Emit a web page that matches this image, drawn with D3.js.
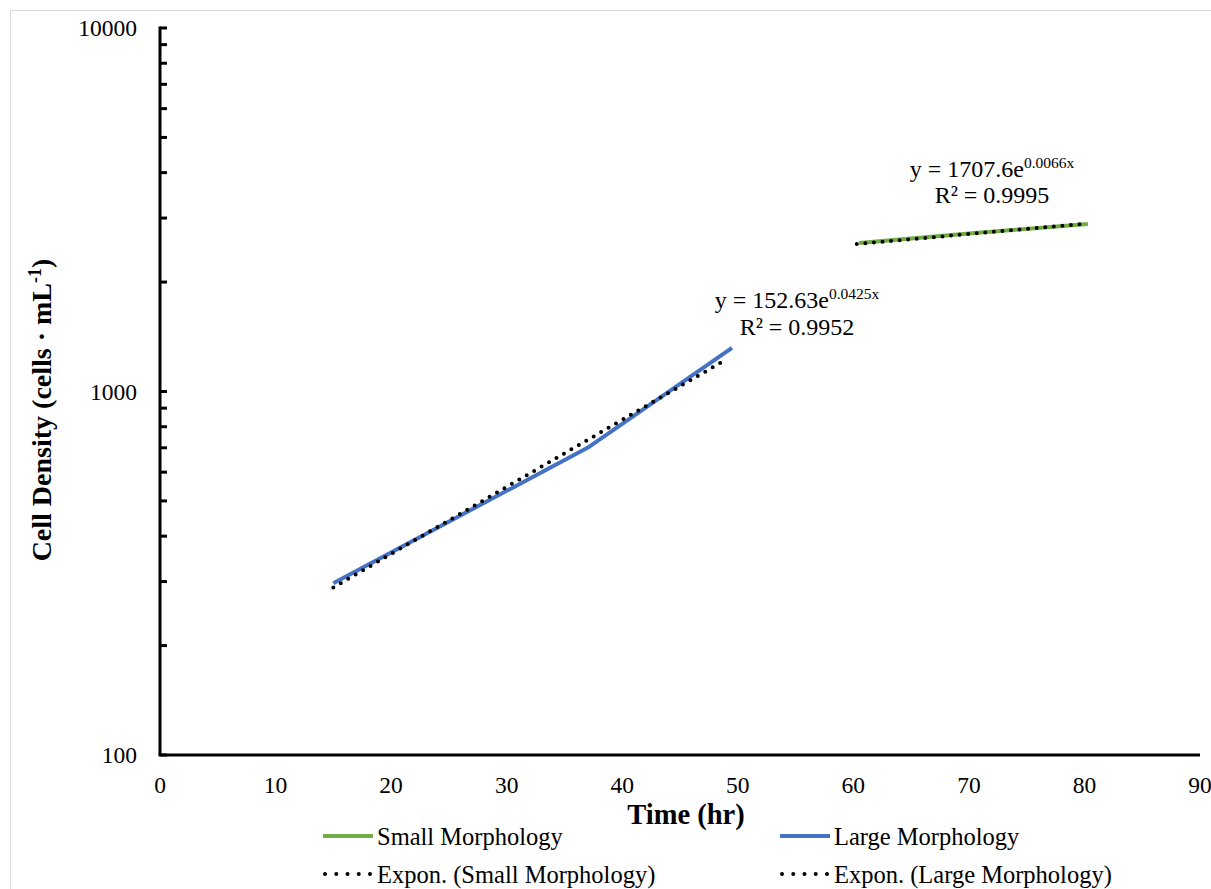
<!DOCTYPE html>
<html>
<head>
<meta charset="utf-8">
<title>Cell Density</title>
<script src="https://cdn.jsdelivr.net/npm/d3@7"></script>
<style>
    body { margin: 0; background: #fff; }
    text { font-family: "Liberation Serif", "Times New Roman", serif; fill: #000; }
</style>
</head>
<body>
<div id="chart"></div>
<script>
    const width = 1211, height = 889;

    // data
    const largeX = [15, 37, 49.5];
    const largeY = [297, 700, 1318];
    const smallX = [60.5, 70, 80.3];
    const smallY = [2560, 2720, 2890];
    const largeTrendX = [15, 49];
    const largeTrendY = [289, 1225];
    const smallTrendX = [60.3, 80];
    const smallTrendY = [2545, 2895];
    const xTicks = [0, 10, 20, 30, 40, 50, 60, 70, 80, 90];
    const yMajor = [100, 1000, 10000];

    const x = d3.scaleLinear().domain([0, 90]).range([160, 1200]);
    const y = d3.scaleLog().domain([100, 10000]).range([755, 28]);

    const svg = d3.select("#chart").append("svg")
        .attr("width", width)
        .attr("height", height);

    // outer chart border
    svg.append("rect")
        .attr("x", 10.5).attr("y", 10.5)
        .attr("width", width).attr("height", height)
        .attr("fill", "none")
        .attr("stroke", "#d9d9d9");

    // y axis with minor log ticks pointing inward
    const yTicks = y.ticks();
    svg.append("g")
        .selectAll("line")
        .data(yTicks)
        .join("line")
        .attr("x1", x(0)).attr("x2", x(0) + 7)
        .attr("y1", d => y(d)).attr("y2", d => y(d))
        .attr("stroke", "#000").attr("stroke-width", 3);

    svg.append("line")
        .attr("x1", x(0)).attr("x2", x(0))
        .attr("y1", y(10000) - 1.5).attr("y2", y(100))
        .attr("stroke", "#000").attr("stroke-width", 3);

    svg.append("line")
        .attr("x1", x(0) - 1.5).attr("x2", x(90))
        .attr("y1", y(100)).attr("y2", y(100))
        .attr("stroke", "#000").attr("stroke-width", 3);

    svg.append("g")
        .selectAll("text")
        .data(yMajor)
        .join("text")
        .attr("x", x(0) - 23)
        .attr("y", d => y(d))
        .attr("dy", "0.35em")
        .attr("text-anchor", "end")
        .attr("font-size", 23.5)
        .text(d => d);

    svg.append("g")
        .selectAll("text")
        .data(xTicks)
        .join("text")
        .attr("x", d => x(d))
        .attr("y", 793)
        .attr("text-anchor", "middle")
        .attr("font-size", 23.5)
        .text(d => d);

    // axis titles
    svg.append("text")
        .attr("x", 686).attr("y", 824)
        .attr("text-anchor", "middle")
        .attr("font-size", 28.5)
        .attr("font-weight", "bold")
        .text("Time (hr)");

    const yTitle = svg.append("text")
        .attr("transform", "translate(51,410) rotate(-90)")
        .attr("text-anchor", "middle")
        .attr("font-size", 28)
        .attr("font-weight", "bold");
    yTitle.append("tspan").text("Cell Density (cells · mL");
    yTitle.append("tspan").attr("font-size", 18).attr("dy", -10).text("-1");
    yTitle.append("tspan").attr("dy", 10).text(")");

    // series
    const line = d3.line().x(d => x(d[0])).y(d => y(d[1]));
    const series = [
        { pts: d3.zip(largeX, largeY), color: "#4472c4" },
        { pts: d3.zip(smallX, smallY), color: "#70ad47" }
    ];
    svg.append("g")
        .selectAll("path")
        .data(series)
        .join("path")
        .attr("d", d => line(d.pts))
        .attr("fill", "none")
        .attr("stroke", d => d.color)
        .attr("stroke-width", 4)
        .attr("stroke-linejoin", "round");

    // exponential trendlines (straight on log axis)
    const trends = [d3.zip(largeTrendX, largeTrendY), d3.zip(smallTrendX, smallTrendY)];
    svg.append("g")
        .selectAll("path")
        .data(trends)
        .join("path")
        .attr("d", d => line(d))
        .attr("fill", "none")
        .attr("stroke", "#000")
        .attr("stroke-width", 4)
        .attr("stroke-linecap", "round")
        .attr("stroke-dasharray", "0 8.6");

    // trendline equations
    const labels = [
        { cx: 797, y1: 308, y2: 335, a: "y = 152.63e", e: "0.0425x", r: "R² = 0.9952" },
        { cx: 992, y1: 177, y2: 203, a: "y = 1707.6e", e: "0.0066x", r: "R² = 0.9995" }
    ];
    labels.forEach(l => {
        const t = svg.append("text")
            .attr("x", l.cx).attr("y", l.y1)
            .attr("text-anchor", "middle")
            .attr("font-size", 24);
        t.append("tspan").text(l.a);
        t.append("tspan").attr("font-size", 15.5).attr("dy", -9).text(l.e);
        svg.append("text")
            .attr("x", l.cx).attr("y", l.y2)
            .attr("text-anchor", "middle")
            .attr("font-size", 24)
            .text(l.r);
    });

    // legend
    const legend = [
        { name: "Small Morphology", color: "#70ad47", dots: false, lx: 323, ly: 836 },
        { name: "Large Morphology", color: "#4472c4", dots: false, lx: 780, ly: 836 },
        { name: "Expon. (Small Morphology)", color: "#000", dots: true, lx: 323, ly: 874 },
        { name: "Expon. (Large Morphology)", color: "#000", dots: true, lx: 780, ly: 874 }
    ];
    const lg = svg.append("g")
        .selectAll("g")
        .data(legend)
        .join("g")
        .attr("transform", d => `translate(${d.lx},${d.ly})`);
    lg.append("line")
        .attr("x1", d => d.dots ? 2 : 0).attr("x2", d => d.dots ? 49 : 50)
        .attr("stroke", d => d.color)
        .attr("stroke-width", 4)
        .attr("stroke-linecap", d => d.dots ? "round" : "butt")
        .attr("stroke-dasharray", d => d.dots ? "0 11.25" : null);
    lg.append("text")
        .attr("x", 54)
        .attr("dy", "0.35em")
        .attr("font-size", 24.5)
        .text(d => d.name);
</script>
</body>
</html>
